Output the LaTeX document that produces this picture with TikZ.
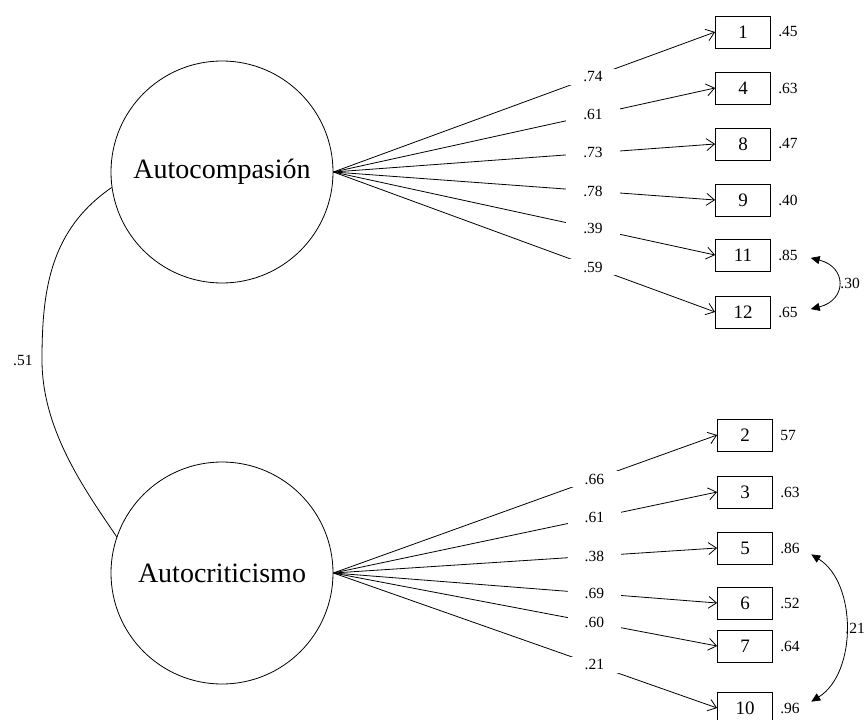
\documentclass[tikz,border=0pt]{standalone}
\usepackage{fontspec}
\setmainfont{Liberation Serif}
\usetikzlibrary{arrows.meta,positioning}
\tikzset {>={Straight Barb[length=8pt,width=12pt]}}
\tikzset{
  factor/.style={draw,circle,minimum size=222pt,inner sep=0pt,font=\fontsize{28}{30}\selectfont},
  item/.style={draw,minimum width=55pt,minimum height=32pt,inner sep=0pt,font=\fontsize{19}{21}\selectfont},
  load/.style={fill=white,inner xsep=17pt,inner ysep=3pt,font=\fontsize{15.5}{17}\selectfont},
  err/.style={inner sep=1pt,font=\fontsize{15.5}{17}\selectfont},
  cov/.style={{Triangle[length=9pt,width=8pt]}-{Triangle[length=9pt,width=8pt]},shorten <=12pt,shorten >=12pt}
}

\begin{document}
\begin{tikzpicture}[x=1pt,y=-1pt,line width=0.8pt]
\useasboundingbox (0,0) rectangle (866,719);
\node[factor] (ac) at (222,172) {Autocompasión};
\node[factor] (acr) at (222,573) {Autocriticismo};
% items of the first factor
\foreach \n/\y/\l/\e in {1/32/.74/.45,4/88/.61/.63,8/144/.73/.47,9/200/.78/.40,11/255/.39/.85,12/312/.59/.65}
{
  \node[item] (i\n) at (743,\y) {\n};
  \node[err,right=6pt of i\n] (e\n) {\e};
  \draw[->] (ac.east) -- node[load,pos=.68] {\l} (i\n.west);
}
% items of the second factor
\foreach \n/\y/\l/\e in {2/435/.66/57,3/492/.61/.63,5/548/.38/.86,6/603/.69/.52,7/646/.60/.64,10/708/.21/.96}
{
  \node[item] (i\n) at (745,\y) {\n};
  \node[err,right=6pt of i\n] (e\n) {\e};
  \draw[->] (acr.east) -- node[load,pos=.68] {\l} (i\n.west);
}
\draw[cov] (e11.east) .. controls +(48,12) and +(48,-12) .. node[err,right=4pt] {.30} (e12.east);
\draw[cov] (e5.east) .. controls +(56,35) and +(56,-35) .. node[err,right=1pt] {.21} (e10.east);
\draw (ac.188) .. controls (50,230) and (42,290) .. (42,360) node[err,left=8pt] {.51}
  .. controls (42,430) and (85,490) .. (acr.161);
\end{tikzpicture}
\end{document}
